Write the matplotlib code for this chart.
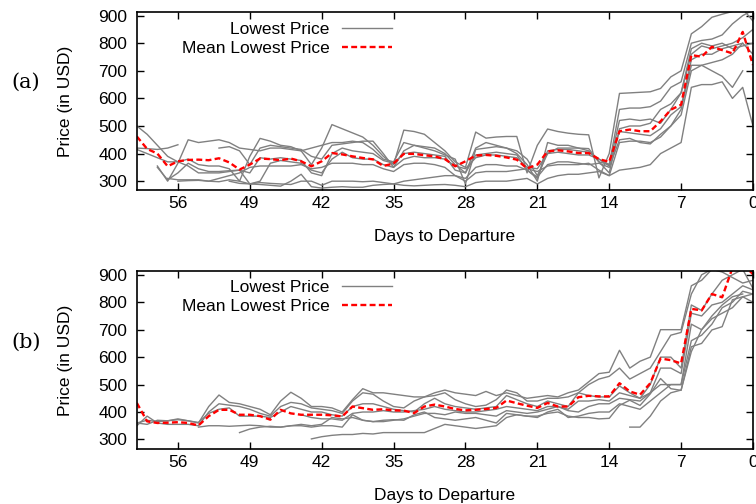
import numpy as np
import matplotlib
matplotlib.use("Agg")
import matplotlib.pyplot as plt

plt.rcParams['font.family'] = ['Liberation Sans', 'DejaVu Sans']

nan = np.nan
days = list(range(60, -1, -1))
xticks = [56, 49, 42, 35, 28, 21, 14, 7, 0]
yticks = [300, 400, 500, 600, 700, 800, 900]

# panel (a): lowest price per flight, days 60 -> 0
a_series = [
    [500, 470, 430, 390, 370, 380, 360, 355, 355, 345, 300, 390, 455, 445,
     430, 425, 410, 360, 420, 505, 490, 475, 460, 430, 390, 360, 485, 480,
     470, 440, 410, 370, 350, 478, 456, 460, 462, 462, 330, 430, 489, 480,
     474, 470, 468, 312, 400, 618, 620, 622, 624, 636, 678, 700, 834, 860,
     894, 905, 915, 925, 880],
    [420, 418, 415, 420, 432, nan, nan, nan, 420, 425, 410, 360, 420, 430,
     425, 420, 415, 390, 380, 430, 435, 440, 445, 445, 400, 350, 410, 430,
     425, 420, 400, 360, 330, 420, 440, 430, 420, 410, 380, 320, 400, 420,
     420, 420, 418, 370, 360, 560, 565, 565, 570, 590, 640, 660, 800, 810,
     815, 830, 870, 900, 920],
    [nan, nan, 355, 300, 365, 450, 440, 445, 450, 440, 420, 415, 410, 420,
     420, 415, 410, 420, 430, 440, 440, 445, 440, 415, 380, 370, 440, 430,
     420, 410, 395, 380, 290, 415, 420, 425, 420, 400, 360, 300, 440, 430,
     430, 420, 410, 370, 330, 490, 500, 500, 510, 560, 580, 620, 760, 790,
     780, 790, 800, 820, 850],
    [415, 400, 385, 370, 370, 355, 330, 330, 330, 335, 340, 290, 300, 365,
     375, 370, 365, 340, 330, 380, 405, 385, 380, 380, 360, 350, 380, 390,
     385, 385, 380, 355, 345, 385, 395, 395, 390, 385, 350, 345, 400, 405,
     400, 395, 395, 380, 360, 480, 475, 470, 465, 490, 540, 570, 740, 760,
     760, 780, 790, 800, 760],
    [nan, nan, nan, 310, 305, 305, 305, 300, 310, 320, 330, 350, 355, 355,
     355, 355, 360, 345, 350, 365, 365, 365, 360, 360, 345, 335, 360, 365,
     365, 360, 350, 320, 310, 350, 360, 360, 355, 355, 340, 315, 360, 370,
     370, 365, 360, 365, 350, 450, 455, 440, 435, 470, 500, 540, 700, 720,
     700, 680, 640, 700, nan],
    [nan, nan, 350, 305, 330, 365, 345, 335, 335, 338, 340, 330, 385, 380,
     385, 380, 375, 330, 320, 400, 420, 410, 405, 400, 375, 365, 400, 405,
     400, 395, 390, 340, 330, 395, 400, 405, 400, 395, 340, 310, 410, 415,
     415, 410, 405, 380, 355, 520, 525, 520, 525, 510, 560, 620, 780, 800,
     790, 800, 780, 790, 800],
    [nan, nan, nan, nan, 300, 302, 303, 300, 298, 305, 300, 290, 295, 292,
     290, 288, 300, 300, 285, 300, 300, 300, 298, 300, 295, 290, 300, 305,
     310, 315, 320, 320, 300, 330, 335, 335, 335, 340, 345, 335, 355, 360,
     360, 360, 365, 340, 320, 440, 445, 445, 440, 460, 500, 560, 720, 720,
     730, 740, 760, 800, nan],
    [nan, nan, nan, nan, nan, nan, nan, nan, nan, 300, 292, 290, 288, 285,
     282, 300, 325, 280, 275, 278, 280, 278, 278, 285, 288, 290, 285, 283,
     285, 287, 288, 285, 280, 295, 300, 300, 300, 305, 310, 290, 310, 320,
     325, 325, 330, 335, 320, 340, 345, 350, 360, 400, 420, 440, 640, 650,
     650, 660, 600, 640, 500],
]
a_mean = [462, 417, 400, 354, 372, 377, 378, 376, 383, 368, 342, 360, 382, 380,
          376, 382, 372, 354, 372, 402, 397, 390, 384, 379, 355, 364, 399, 399,
          394, 390, 380, 354, 372, 393, 395, 392, 386, 378, 346, 360, 408, 412,
          408, 402, 402, 380, 370, 481, 487, 481, 481, 517, 559, 577, 757, 751,
          787, 775, 763, 841, 721]

# panel (b)
b_series = [
    [360, 355, 370, 368, 372, 368, 360, 420, 462, 435, 430, 420, 410, 390,
     440, 472, 450, 420, 420, 415, 400, 445, 485, 470, 470, 465, 460, 455,
     455, 470, 480, 470, 465, 460, 475, 460, 470, 460, 450, 455, 460, 455,
     470, 480, 510, 540, 545, 625, 560, 585, 600, 700, 700, 700, 860, 880,
     920, 940, 950, 960, 900],
    [350, 385, 360, 355, 355, 355, 350, 400, 430, 425, 420, 410, 395, 385,
     420, 435, 430, 415, 410, 405, 395, 440, 470, 465, 440, 420, 415, 440,
     455, 460, 470, 445, 430, 420, 425, 445, 480, 470, 440, 440, 450, 450,
     455, 470, 500, 520, 530, 560, 520, 540, 560, 620, 680, 690, 830, 900,
     920, 910, 890, 870, 880],
    [360, 370, 365, 368, 375, 368, 362, 395, 410, 415, 385, 385, 385, 380,
     400, 420, 410, 400, 400, 390, 385, 420, 430, 430, 420, 410, 405, 400,
     430, 450, 430, 420, 415, 410, 415, 420, 460, 445, 430, 420, 440, 430,
     420, 470, 460, 455, 455, 495, 470, 450, 500, 600, 600, 560, 790, 770,
     830, 880, 900, 920, 850],
    [nan, nan, nan, nan, nan, nan, 345, 350, 350, 348, 350, 352, 350, 345,
     345, 350, 350, 345, 350, 350, 345, 390, 370, 365, 370, 372, 370, 390,
     400, 380, 375, 370, 375, 380, 370, 360, 395, 390, 385, 380, 400, 410,
     380, 385, 395, 400, 400, 430, 420, 410, 440, 470, 500, 500, 660, 680,
     720, 780, 800, 840, 830],
    [nan, nan, nan, nan, nan, nan, nan, nan, nan, nan, 325, 338, 345, 348,
     345, 350, 355, 350, 355, 380, 375, 380, 370, 365, 365, 370, 375, 385,
     395, 395, 390, 400, 395, 395, 390, 385, 405, 400, 395, 400, 410, 420,
     405, 400, 420, 430, 430, 450, 445, 440, 470, 500, 500, 500, 720, 700,
     740, 760, 780, 820, 800],
    [nan, nan, nan, nan, nan, nan, nan, nan, nan, nan, nan, nan, nan, nan,
     nan, nan, nan, 302, 310, 315, 318, 318, 322, 320, 325, 325, 325, 325,
     325, 340, 355, 350, 345, 340, 345, 350, 380, 390, 385, 385, 395, 400,
     385, 380, 380, 375, 377, 424, 443, 424, 466, 522, 485, 479, 638, 650,
     699, 711, 809, 820, 830],
    [nan, nan, nan, nan, nan, nan, nan, nan, nan, nan, nan, nan, nan, nan,
     nan, nan, nan, nan, nan, nan, nan, nan, nan, nan, nan, nan, nan, nan,
     nan, nan, nan, nan, nan, nan, nan, nan, nan, nan, nan, nan, nan, nan,
     nan, nan, nan, nan, nan, nan, 345, 345, 385, 440, 470, 480, 620, 700,
     750, 790, 820, 830, nan],
    [nan, nan, nan, nan, nan, nan, nan, nan, nan, nan, nan, nan, nan, nan,
     nan, nan, 390, 380, 375, 375, 370, 395, 400, 400, 405, 400, 400, 405,
     410, 420, 410, 405, 400, 400, 405, 410, 420, 415, 410, 405, 420, 420,
     410, 440, 440, 445, 440, 470, 460, 450, 470, 560, 560, 540, 760, 750,
     790, 800, 830, 860, 845],
]
b_mean = [433, 366, 360, 361, 363, 360, 351, 385, 408, 408, 390, 390, 385, 372,
          408, 395, 390, 390, 390, 388, 384, 420, 414, 408, 410, 406, 405, 396,
          420, 427, 420, 411, 406, 408, 411, 415, 442, 432, 423, 415, 433, 420,
          420, 454, 459, 457, 457, 505, 475, 463, 505, 595, 589, 577, 776, 770,
          830, 818, 925, 940, 902]

FS = 12.5

fig = plt.figure(figsize=(7.56, 5.04), dpi=100)
ax_a = fig.add_axes([0.181, 0.623, 0.815, 0.3526])
ax_b = fig.add_axes([0.181, 0.109, 0.815, 0.3534])
tag_label = {ax_a: '(a)', ax_b: '(b)'}


def draw_panel(ax, series, mean, ylim, tag_y, leg_top):
    for i, s in enumerate(series):
        ax.plot(days, s, color='#808080', lw=1.0,
                label='Lowest Price' if i == 0 else None)
    ax.plot(days, mean, color='red', lw=1.7, dashes=(2.5, 1.4),
            label='Mean Lowest Price')
    ax.set_xlim(60, 0)
    ax.set_ylim(*ylim)
    ax.set_xticks(xticks)
    ax.set_yticks(yticks)
    ax.tick_params(direction='in', length=5, width=1, top=True, right=True,
                   labelsize=FS)
    ax.tick_params(axis='y', pad=7)
    ax.tick_params(axis='x', pad=4.5)
    for sp in ax.spines.values():
        sp.set_linewidth(1.2)
    ax.set_xlabel('Days to Departure', fontsize=FS, labelpad=12.5)
    ax.set_ylabel('Price (in USD)', fontsize=FS)
    ax.yaxis.set_label_coords(-0.104, 0.5)
    ax.legend(loc='upper right', markerfirst=False, frameon=False,
              fontsize=FS, handlelength=2.9, handletextpad=0.7,
              labelspacing=0.22, borderpad=0, borderaxespad=0,
              bbox_to_anchor=(392 / 756, leg_top), bbox_transform=fig.transFigure)
    fig.text(26 / 756, 1 - tag_y / 504, tag_label[ax], ha='center', va='center',
             fontsize=15, family='DejaVu Serif')


draw_panel(ax_a, a_series, a_mean, (268, 912), 82, 1 - 22 / 504)
draw_panel(ax_b, b_series, b_mean, (265, 914), 342, 1 - 280 / 504)

fig.savefig('out.png', dpi=100)
